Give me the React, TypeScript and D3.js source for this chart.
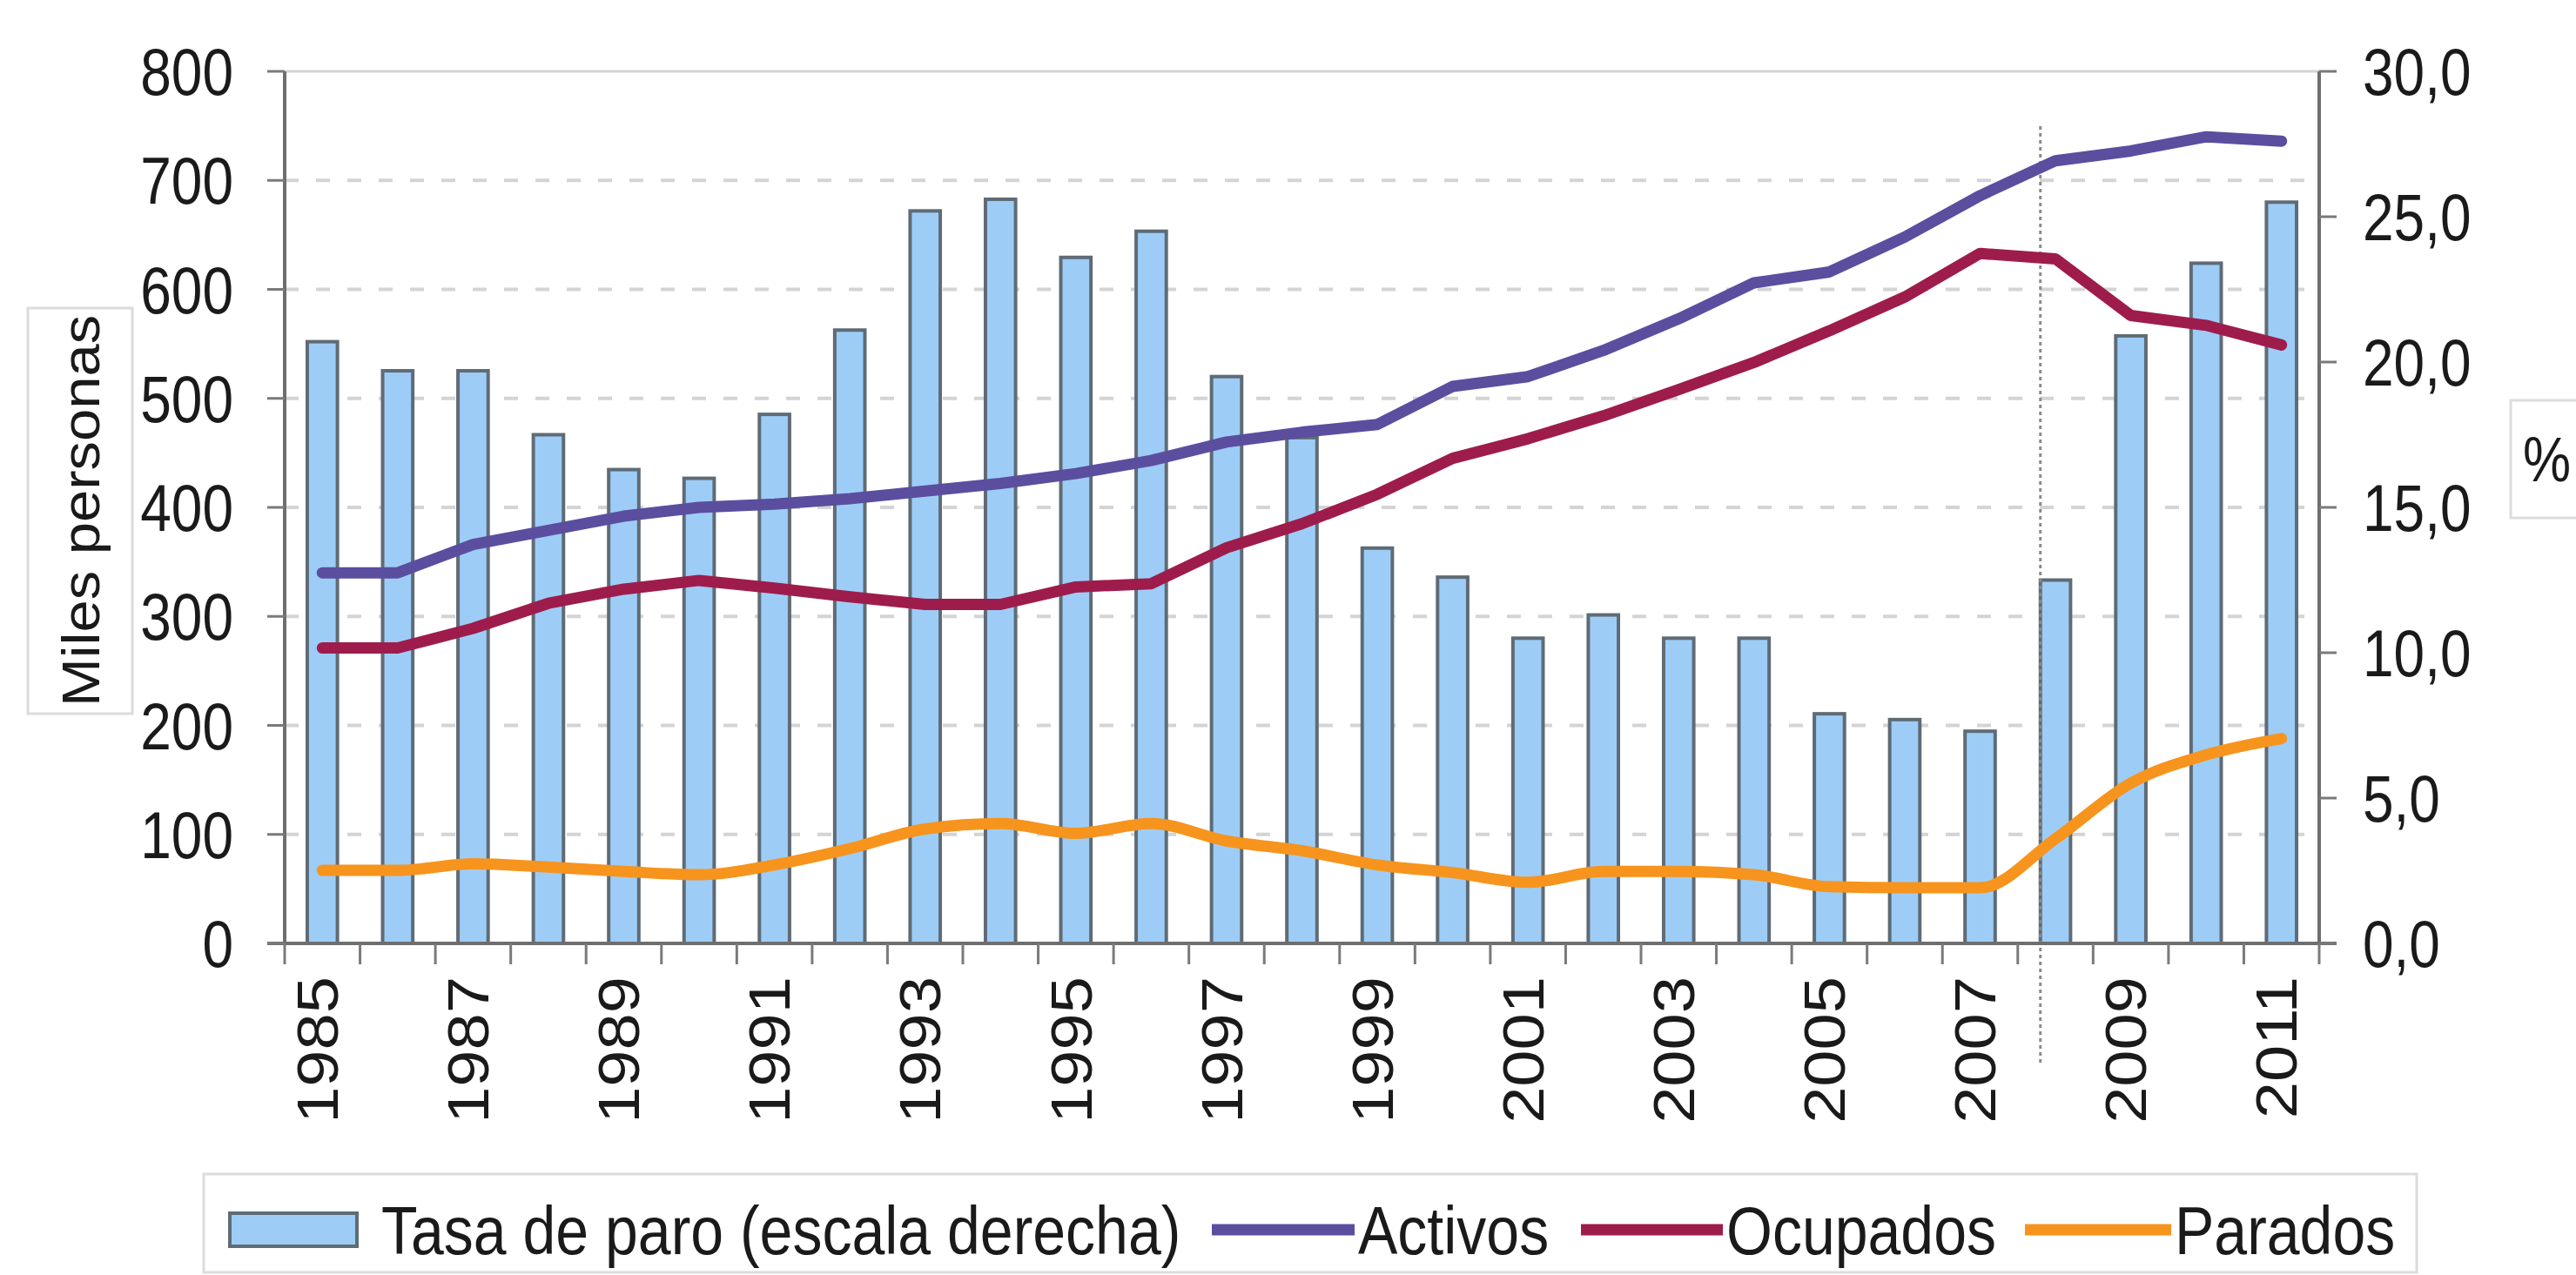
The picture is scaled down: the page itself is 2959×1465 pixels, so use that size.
import React, { useEffect, useRef } from "react";
import * as d3 from "d3";

// categories (years)
const years = [
  "1985", "1986", "1987", "1988", "1989", "1990", "1991", "1992", "1993",
  "1994", "1995", "1996", "1997", "1998", "1999", "2000", "2001", "2002",
  "2003", "2004", "2005", "2006", "2007", "2008", "2009", "2010", "2011",
];
const yearLabels = [
  "1985", "1987", "1989", "1991", "1993", "1995", "1997", "1999",
  "2001", "2003", "2005", "2007", "2009", "2011",
];

// Tasa de paro, % (right axis)
const tasaParo = [
  20.7, 19.7, 19.7, 17.5, 16.3, 16.0, 18.2, 21.1, 25.2, 25.6, 23.6, 24.5, 19.5,
  17.4, 13.6, 12.6, 10.5, 11.3, 10.5, 10.5, 7.9, 7.7, 7.3, 12.5, 20.9, 23.4, 25.5,
];
// Miles personas (left axis)
const activos = [
  340, 340, 366, 379, 392, 400, 403, 408, 415, 422, 431, 443, 460, 469, 476,
  511, 520, 544, 573, 606, 616, 648, 686, 718, 727, 740, 736,
];
const ocupados = [
  271, 271, 289, 312, 325, 333, 326, 318, 311, 311, 327, 330, 363, 385, 412,
  445, 463, 484, 508, 533, 562, 593, 633, 628, 576, 567, 549,
];
const parados = [
  67, 67, 73, 70, 66, 63, 72, 87, 105, 110, 101, 110, 94, 85, 72, 65, 56, 66,
  66, 63, 52, 51, 51, 96, 147, 173, 188,
];

const leftTicks = [0, 100, 200, 300, 400, 500, 600, 700, 800];
const rightTicks = [0, 5, 10, 15, 20, 25, 30];

const FONT = "'Liberation Sans', Arial, sans-serif";
const C_BAR = "#9dcdf7";
const C_ACT = "#5b4e9f";
const C_OCU = "#9e1c4c";
const C_PAR = "#f7941d";

const App = () => {
  const svgRef = useRef<SVGSVGElement>(null);

  useEffect(() => {
    const W = 2959;
    const H = 1465;
    const L = 327;
    const R = 2664;
    const T = 82;
    const B = 1084;

    const svg = d3.select(svgRef.current).attr("width", W).attr("height", H);
    svg.selectAll("*").remove();

    const x = d3.scaleBand().domain(years).range([L, R]).padding(0);
    const bw = x.bandwidth();
    const cx = (y: string) => (x(y) as number) + bw / 2;
    const yL = d3.scaleLinear().domain([0, 800]).range([B, T]);
    const yR = d3.scaleLinear().domain([0, 30]).range([B, T]);

    svg.append("rect").attr("width", W).attr("height", H).attr("fill", "#fff");

    // gridlines
    svg
      .append("g")
      .selectAll("line")
      .data(leftTicks.filter((t) => t > 0))
      .join("line")
      .attr("x1", L)
      .attr("x2", R)
      .attr("y1", (d) => yL(d))
      .attr("y2", (d) => yL(d))
      .attr("stroke", (d) => (d === 800 ? "#d4d4d4" : "#d4d4d4"))
      .attr("stroke-width", (d) => (d === 800 ? 3 : 4))
      .attr("stroke-dasharray", (d) => (d === 800 ? null : "16,20"));

    // bars
    svg
      .append("g")
      .selectAll("rect")
      .data(tasaParo)
      .join("rect")
      .attr("x", (d, i) => (x(years[i]) as number) + bw * 0.3)
      .attr("y", (d) => yR(d))
      .attr("width", bw * 0.4)
      .attr("height", (d) => B - yR(d))
      .attr("fill", C_BAR)
      .attr("stroke", "#5f6b75")
      .attr("stroke-width", 4);

    // dotted marker at 2008
    svg
      .append("line")
      .attr("x1", (x("2008") as number) + bw * 0.3)
      .attr("x2", (x("2008") as number) + bw * 0.3)
      .attr("y1", 145)
      .attr("y2", 1222)
      .attr("stroke", "#8a8a8a")
      .attr("stroke-width", 3)
      .attr("stroke-dasharray", "4,4");

    // lines
    const series = [
      { values: activos, color: C_ACT, curve: d3.curveLinear },
      { values: ocupados, color: C_OCU, curve: d3.curveLinear },
      { values: parados, color: C_PAR, curve: d3.curveMonotoneX },
    ];
    series.forEach((s) => {
      const line = d3
        .line<number>()
        .x((d, i) => cx(years[i]))
        .y((d) => yL(d))
        .curve(s.curve);
      svg
        .append("path")
        .attr("d", line(s.values))
        .attr("fill", "none")
        .attr("stroke", s.color)
        .attr("stroke-width", 13)
        .attr("stroke-linejoin", "round")
        .attr("stroke-linecap", "round");
    });

    // axes lines
    const axisG = svg.append("g").attr("stroke", "#6e6e6e").attr("stroke-width", 4);
    axisG.append("line").attr("x1", L).attr("x2", L).attr("y1", T).attr("y2", B + 2);
    axisG.append("line").attr("x1", R).attr("x2", R).attr("y1", T).attr("y2", B + 2);
    axisG.append("line").attr("x1", L - 20).attr("x2", R + 20).attr("y1", B).attr("y2", B);

    // x ticks at band edges
    svg
      .append("g")
      .selectAll("line")
      .data([...years.map((y) => x(y) as number), R])
      .join("line")
      .attr("x1", (d) => d)
      .attr("x2", (d) => d)
      .attr("y1", B)
      .attr("y2", B + 24)
      .attr("stroke", "#7a7a7a")
      .attr("stroke-width", 3);

    // left ticks + labels
    const lt = svg.append("g").selectAll("g").data(leftTicks).join("g");
    lt.append("line")
      .attr("x1", L - 20)
      .attr("x2", L)
      .attr("y1", (d) => yL(d))
      .attr("y2", (d) => yL(d))
      .attr("stroke", "#7a7a7a")
      .attr("stroke-width", 3);
    lt.append("text")
      .attr("transform", (d) => `translate(268,${yL(d)}) scale(1,1.18)`)
      .attr("dy", "0.36em")
      .attr("text-anchor", "end")
      .attr("font-family", FONT)
      .attr("font-size", 64)
      .attr("fill", "#1a1a1a")
      .text((d) => d);

    // right ticks + labels
    const fmt = d3.format(".1f");
    const rt = svg.append("g").selectAll("g").data(rightTicks).join("g");
    rt.append("line")
      .attr("x1", R)
      .attr("x2", R + 20)
      .attr("y1", (d) => yR(d))
      .attr("y2", (d) => yR(d))
      .attr("stroke", "#7a7a7a")
      .attr("stroke-width", 3);
    rt.append("text")
      .attr("transform", (d) => `translate(2714,${yR(d)}) scale(1,1.18)`)
      .attr("dy", "0.36em")
      .attr("text-anchor", "start")
      .attr("font-family", FONT)
      .attr("font-size", 64)
      .attr("fill", "#1a1a1a")
      .text((d) => fmt(d).replace(".", ","));

    // year labels
    svg
      .append("g")
      .selectAll("text")
      .data(yearLabels)
      .join("text")
      .attr("transform", (d) => `translate(${cx(d) - 6},1122) scale(1,1.15) rotate(-90)`)
      .attr("dy", "0.36em")
      .attr("text-anchor", "end")
      .attr("font-family", FONT)
      .attr("font-size", 66)
      .attr("fill", "#1a1a1a")
      .text((d) => d);

    // axis titles
    svg
      .append("rect")
      .attr("x", 32)
      .attr("y", 354)
      .attr("width", 120)
      .attr("height", 466)
      .attr("fill", "#fff")
      .attr("stroke", "#dcdcdc")
      .attr("stroke-width", 3);
    svg
      .append("text")
      .attr("transform", "translate(92,587) scale(1,1.08) rotate(-90)")
      .attr("dy", "0.36em")
      .attr("text-anchor", "middle")
      .attr("font-family", FONT)
      .attr("font-size", 62)
      .attr("fill", "#1a1a1a")
      .text("Miles personas");

    svg
      .append("rect")
      .attr("x", 2884)
      .attr("y", 460)
      .attr("width", 110)
      .attr("height", 135)
      .attr("fill", "#fff")
      .attr("stroke", "#dcdcdc")
      .attr("stroke-width", 3);
    svg
      .append("text")
      .attr("transform", "translate(2898,527) scale(1,1.18)")
      .attr("dy", "0.36em")
      .attr("font-family", FONT)
      .attr("font-size", 62)
      .attr("fill", "#1a1a1a")
      .text("%");

    // legend
    const lg = svg.append("g");
    lg.append("rect")
      .attr("x", 234)
      .attr("y", 1349)
      .attr("width", 2542)
      .attr("height", 113)
      .attr("fill", "#fff")
      .attr("stroke", "#dcdcdc")
      .attr("stroke-width", 3);
    const ly = 1413;
    lg.append("rect")
      .attr("x", 264)
      .attr("y", ly - 19)
      .attr("width", 146)
      .attr("height", 38)
      .attr("fill", C_BAR)
      .attr("stroke", "#5f6b75")
      .attr("stroke-width", 4);
    const legendItems = [
      { label: "Tasa de paro (escala derecha)", color: null, x0: 0, tx: 438 },
      { label: "Activos", color: C_ACT, x0: 1392, tx: 1560 },
      { label: "Ocupados", color: C_OCU, x0: 1816, tx: 1983 },
      { label: "Parados", color: C_PAR, x0: 2326, tx: 2498 },
    ];
    legendItems.forEach((it) => {
      if (it.color) {
        lg.append("line")
          .attr("x1", it.x0)
          .attr("x2", it.tx - 4)
          .attr("y1", ly)
          .attr("y2", ly)
          .attr("stroke", it.color)
          .attr("stroke-width", 13);
      }
      lg.append("text")
        .attr("transform", `translate(${it.tx},${ly}) scale(1,1.15)`)
        .attr("dy", "0.36em")
        .attr("font-family", FONT)
        .attr("font-size", 68)
        .attr("fill", "#1a1a1a")
        .text(it.label);
    });
  }, []);

  return (
    <svg
      ref={svgRef}
      style={{ position: "absolute", left: 0, top: 0, display: "block" }}
    />
  );
};

export default App;
